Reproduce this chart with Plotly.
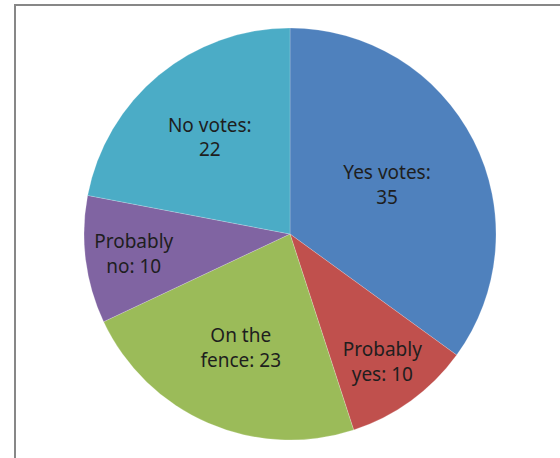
import plotly.graph_objects as go

categories = ["Yes votes", "Probably yes", "On the fence", "Probably no", "No votes"]
values = [35, 10, 23, 10, 22]
colors = ["#4F81BD", "#C0504D", "#9BBB59", "#8064A2", "#4BACC6"]

labels_text = {
    "Yes votes": "Yes votes:<br>{v}",
    "Probably yes": "Probably<br>yes: {v}",
    "On the fence": "On the<br>fence: {v}",
    "Probably no": "Probably<br>no: {v}",
    "No votes": "No votes:<br>{v}",
}
texts = [labels_text[c].format(v=v) for c, v in zip(categories, values)]

W, H = 560, 458
cx, cy, r = 290, 234, 206

fig = go.Figure(go.Pie(
    labels=categories,
    values=values,
    text=texts,
    textinfo="text",
    textposition="inside",
    insidetextorientation="horizontal",
    sort=False,
    direction="clockwise",
    rotation=0,
    marker=dict(colors=colors, line=dict(color="rgba(255,255,255,0.4)", width=0.5)),
    insidetextfont=dict(family="Noto Sans", size=19, color="#1e1e1e"),
    hoverinfo="label+value",
    domain=dict(x=[(cx - r) / W, (cx + r) / W], y=[(H - cy - r) / H, (H - cy + r) / H]),
    showlegend=False,
))

fig.add_shape(type="rect", xref="paper", yref="paper",
              x0=15 / W, x1=1.05, y0=-0.05, y1=1 - 5 / H,
              line=dict(color="#878787", width=2), fillcolor="rgba(0,0,0,0)", layer="below")

fig.update_layout(
    width=W, height=H,
    margin=dict(l=0, r=0, t=0, b=0),
    paper_bgcolor="white",
    plot_bgcolor="white",
    uniformtext=dict(minsize=19, mode="show"),
)

fig.write_html("out.html", config={"displayModeBar": False},
               post_script="document.body.style.margin='0';document.body.style.overflow='hidden';")
